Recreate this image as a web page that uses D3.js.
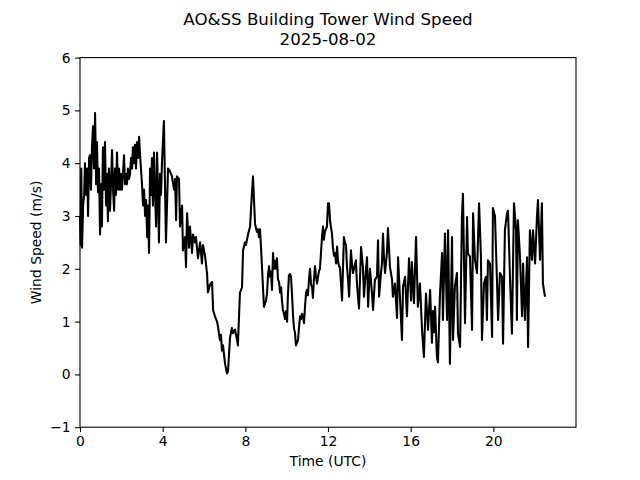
<!DOCTYPE html>
<html>
<head>
<meta charset="utf-8">
<script src="https://cdn.jsdelivr.net/npm/d3@7"></script>
<style>
  html, body { margin: 0; padding: 0; background: #fff; }
  text { font-family: "DejaVu Sans", sans-serif; fill: #000; }
</style>
</head>
<body>
<div id="mainDiv"></div>
<script>
'use strict';

// [hour UTC, wind speed m/s]
var speed00to04 = [
  [0.00, 3.0], [0.03, 2.45], [0.06, 3.9], [0.10, 2.4], [0.15, 3.2], [0.20, 3.4], [0.24, 4.0],
  [0.30, 3.4], [0.35, 3.9], [0.39, 3.0], [0.44, 4.1], [0.48, 4.15], [0.53, 3.5], [0.58, 4.3],
  [0.63, 4.7], [0.68, 3.9], [0.73, 4.95], [0.78, 3.6], [0.82, 4.4], [0.87, 3.45], [0.92, 3.9],
  [0.97, 2.65], [1.02, 3.6], [1.06, 2.8], [1.11, 4.3], [1.16, 3.5], [1.21, 4.4], [1.26, 3.2],
  [1.31, 3.8], [1.35, 2.9], [1.40, 3.9], [1.45, 3.1], [1.50, 3.6], [1.55, 4.25], [1.60, 3.5],
  [1.65, 3.1], [1.69, 3.9], [1.74, 3.4], [1.79, 4.2], [1.84, 3.5], [1.89, 3.9], [1.94, 3.5],
  [1.99, 3.8], [2.03, 3.5], [2.08, 3.8], [2.13, 4.15], [2.18, 3.6], [2.23, 3.8], [2.27, 3.6],
  [2.32, 3.9], [2.37, 3.7], [2.42, 3.8], [2.47, 4.1], [2.52, 3.9], [2.56, 4.3], [2.61, 4.0],
  [2.66, 4.35], [2.71, 3.9], [2.76, 4.4], [2.81, 4.1], [2.86, 4.5], [2.90, 4.2], [2.95, 3.9],
  [3.00, 3.6], [3.05, 3.2], [3.10, 3.5], [3.15, 3.0], [3.20, 3.3], [3.25, 2.6], [3.29, 3.2],
  [3.34, 2.3], [3.39, 3.9], [3.44, 3.4], [3.48, 4.1], [3.53, 3.2], [3.58, 4.2], [3.63, 3.5],
  [3.68, 2.8], [3.73, 4.2], [3.77, 3.5], [3.82, 2.5], [3.87, 3.8], [3.92, 3.4], [3.97, 4.05]
];

var speed04to08 = [
  [4.06, 4.8], [4.16, 2.5], [4.26, 3.9], [4.35, 3.85], [4.45, 3.75], [4.55, 3.5], [4.60, 3.7],
  [4.65, 2.92], [4.69, 3.75], [4.79, 3.7], [4.84, 2.8], [4.94, 3.2], [4.98, 2.35], [5.08, 2.6],
  [5.13, 2.03], [5.18, 3.05], [5.27, 2.4], [5.32, 2.8], [5.42, 2.3], [5.47, 2.65], [5.56, 2.5],
  [5.61, 2.6], [5.71, 2.2], [5.81, 2.5], [5.90, 2.1], [5.95, 2.45], [6.05, 2.25], [6.15, 1.9],
  [6.19, 1.55], [6.29, 1.7], [6.39, 1.75], [6.44, 1.22], [6.53, 1.1], [6.63, 1.0], [6.68, 0.9],
  [6.77, 0.65], [6.82, 0.75], [6.87, 0.45], [6.92, 0.55], [7.02, 0.2], [7.11, 0.02], [7.16, 0.05],
  [7.26, 0.7], [7.35, 0.88], [7.40, 0.78], [7.50, 0.85], [7.60, 0.65], [7.64, 0.55], [7.74, 1.55],
  [7.84, 1.65], [7.89, 2.35], [7.98, 2.5]
];

var speed08to12 = [
  [8.03, 2.45], [8.13, 2.65], [8.23, 2.8], [8.30, 3.3], [8.37, 3.75], [8.42, 3.3], [8.47, 2.85],
  [8.56, 2.7], [8.61, 2.75], [8.66, 2.6], [8.71, 2.75], [8.76, 2.4], [8.81, 2.0], [8.90, 1.28],
  [9.00, 1.4], [9.05, 1.53], [9.10, 1.9], [9.15, 2.05], [9.19, 1.85], [9.24, 1.95], [9.29, 1.6],
  [9.34, 2.3], [9.39, 2.0], [9.44, 2.15], [9.48, 2.0], [9.53, 2.2], [9.58, 1.8], [9.63, 1.75],
  [9.68, 1.55], [9.73, 1.65], [9.77, 1.4], [9.82, 1.22], [9.87, 1.15], [9.92, 1.05], [9.97, 1.2],
  [10.02, 1.0], [10.06, 1.5], [10.11, 1.88], [10.16, 1.9], [10.21, 1.85], [10.26, 1.5], [10.31, 1.1],
  [10.36, 0.85], [10.40, 0.8], [10.45, 0.55], [10.50, 0.6], [10.55, 0.65], [10.60, 0.9], [10.65, 1.1],
  [10.70, 1.05], [10.74, 1.15], [10.79, 1.1], [10.84, 0.97], [10.89, 1.3], [10.94, 1.55], [10.98, 1.6],
  [11.03, 1.5], [11.08, 1.8], [11.13, 2.0], [11.18, 1.7], [11.23, 1.65], [11.27, 1.45], [11.32, 1.8],
  [11.37, 2.05], [11.42, 1.85], [11.47, 1.72], [11.52, 1.85], [11.56, 1.95], [11.61, 2.0], [11.66, 2.3],
  [11.71, 2.6], [11.76, 2.8], [11.80, 2.55], [11.85, 2.7], [11.90, 2.75], [11.95, 2.8], [12.00, 3.24]
];

var speed12to16 = [
  [12.05, 3.24], [12.10, 2.9], [12.19, 2.67], [12.24, 2.4], [12.29, 2.25], [12.34, 2.3], [12.39, 2.1],
  [12.44, 2.42], [12.48, 2.16], [12.53, 2.05], [12.58, 2.03], [12.68, 1.4], [12.77, 2.6], [12.82, 2.5],
  [12.87, 2.45], [12.92, 2.03], [12.97, 1.8], [13.02, 1.47], [13.11, 2.35], [13.16, 2.1], [13.21, 1.92],
  [13.26, 2.0], [13.35, 2.16], [13.40, 1.72], [13.50, 1.25], [13.60, 2.41], [13.69, 2.03], [13.74, 1.47],
  [13.84, 2.0], [13.89, 2.22], [13.94, 1.28], [14.03, 2.0], [14.13, 1.53], [14.18, 1.22], [14.27, 1.79],
  [14.37, 1.85], [14.42, 2.54], [14.47, 1.47], [14.56, 1.9], [14.61, 2.1], [14.66, 2.67], [14.71, 2.2],
  [14.76, 1.92], [14.85, 2.3], [14.90, 2.77], [15.00, 2.03], [15.10, 1.79], [15.14, 1.47], [15.24, 1.72],
  [15.34, 1.07], [15.39, 2.22], [15.48, 1.47], [15.58, 0.65], [15.63, 1.66], [15.73, 1.85], [15.82, 1.1],
  [15.92, 2.2], [16.02, 1.4]
];

var speed16to20 = [
  [16.06, 2.13], [16.16, 1.35], [16.26, 2.6], [16.35, 1.28], [16.45, 1.72], [16.55, 0.84], [16.64, 0.33],
  [16.74, 1.53], [16.84, 0.84], [16.94, 1.6], [17.03, 0.6], [17.08, 1.2], [17.13, 0.8], [17.18, 1.28],
  [17.27, 0.33], [17.32, 0.23], [17.42, 1.53], [17.52, 2.3], [17.56, 1.03], [17.66, 2.67], [17.76, 1.03],
  [17.81, 2.73], [17.90, 0.2], [18.00, 2.6], [18.05, 0.65], [18.14, 1.66], [18.24, 1.92], [18.29, 0.77],
  [18.39, 0.52], [18.48, 2.98], [18.53, 3.42], [18.63, 0.97], [18.73, 2.98], [18.77, 2.29], [18.87, 2.23],
  [18.97, 0.84], [19.02, 3.05], [19.11, 2.17], [19.21, 1.92], [19.31, 3.24], [19.40, 2.23], [19.45, 0.65],
  [19.55, 1.72], [19.64, 1.85], [19.69, 1.03], [19.74, 2.16], [19.84, 2.1], [19.94, 0.71], [19.98, 3.15]
];

var speed20to23 = [
  [20.08, 3.0], [20.18, 1.72], [20.23, 1.03], [20.32, 1.92], [20.42, 1.85], [20.47, 0.58], [20.56, 2.73],
  [20.66, 3.05], [20.71, 3.1], [20.81, 1.79], [20.90, 0.77], [21.00, 3.24], [21.10, 2.73], [21.14, 1.03],
  [21.19, 2.92], [21.29, 2.23], [21.39, 1.1], [21.44, 2.1], [21.53, 1.03], [21.63, 2.22], [21.68, 0.52],
  [21.77, 2.73], [21.87, 2.17], [21.92, 2.73], [22.02, 2.1], [22.11, 2.98], [22.16, 3.3], [22.26, 2.17],
  [22.35, 3.24], [22.40, 1.72], [22.50, 1.47]
];

var xTicks = [0, 4, 8, 12, 16, 20];
var yTicks = [-1, 0, 1, 2, 3, 4, 5, 6];
var titleLines = ['AO&SS Building Tower Wind Speed', '2025-08-02'];


var myApp = {};

myApp.xScale = undefined;
myApp.yScale = undefined;

myApp.appendSvg = function(div, dims)
{
    return d3.select(div).append('svg')
        .attr('width', dims.width)
        .attr('height', dims.height);
}

myApp.createAxes = function(svg, box)
{
    myApp.xScale = d3.scaleLinear().domain([0, 24]).range([box.left, box.right]);
    myApp.yScale = d3.scaleLinear().domain([-1, 6]).range([box.bottom, box.top]);

    var xAxis = d3.axisBottom(myApp.xScale).tickValues(xTicks).tickSize(4.86).tickPadding(4.5);
    var yAxis = d3.axisLeft(myApp.yScale).tickValues(yTicks).tickSize(4.86).tickPadding(4.5)
        .tickFormat(function(d){ return d < 0 ? '\u2212' + Math.abs(d) : d; });

    var gx = svg.append('g')
        .attr('transform', 'translate(0,' + box.bottom + ')')
        .call(xAxis);
    var gy = svg.append('g')
        .attr('transform', 'translate(' + box.left + ',0)')
        .call(yAxis);

    [gx, gy].forEach(function(g) {
        g.select('.domain').remove();
        g.selectAll('.tick line').attr('stroke', '#000').attr('stroke-width', 1.1);
        g.selectAll('.tick text')
            .attr('font-family', 'DejaVu Sans')
            .attr('font-size', 13.9)
            .attr('fill', '#000');
    });
    gx.selectAll('.tick text').attr('dy', '0.71em');
}

myApp.appendLine = function(svg, data)
{
    var line = d3.line()
        .x(function(d){ return myApp.xScale(d[0]); })
        .y(function(d){ return myApp.yScale(d[1]); });

    svg.append('path')
        .datum(data)
        .attr('d', line)
        .attr('fill', 'none')
        .attr('stroke', '#000')
        .attr('stroke-width', 2.08)
        .attr('stroke-linejoin', 'round');
}

myApp.appendLabels = function(svg, box)
{
    var cx = (box.left + box.right) / 2;

    svg.append('text')
        .attr('x', cx).attr('y', 25)
        .attr('text-anchor', 'middle')
        .attr('font-size', 16.67)
        .text(titleLines[0]);
    svg.append('text')
        .attr('x', cx).attr('y', 45)
        .attr('text-anchor', 'middle')
        .attr('font-size', 16.67)
        .text(titleLines[1]);

    svg.append('text')
        .attr('x', cx).attr('y', 466)
        .attr('text-anchor', 'middle')
        .attr('font-size', 13.9)
        .text('Time (UTC)');

    svg.append('text')
        .attr('transform', 'translate(41,' + ((box.top + box.bottom) / 2) + ') rotate(-90)')
        .attr('text-anchor', 'middle')
        .attr('font-size', 13.9)
        .text('Wind Speed (m/s)');
}

myApp.run = function(params)
{
    var svg = myApp.appendSvg(params.div, params.dims);
    var box = params.box;

    myApp.createAxes(svg, box);

    var all = [].concat(speed00to04, speed04to08, speed08to12, speed12to16, speed16to20, speed20to23);
    myApp.appendLine(svg, all);

    // axes frame
    svg.append('rect')
        .attr('x', box.left).attr('y', box.top)
        .attr('width', box.right - box.left)
        .attr('height', box.bottom - box.top)
        .attr('fill', 'none')
        .attr('stroke', '#000')
        .attr('stroke-width', 1.1);

    myApp.appendLabels(svg, box);
}

var params = {
    div: '#mainDiv',
    dims: { width: 640, height: 480 },
    box: { left: 80, right: 576, top: 57.6, bottom: 427.2 }
};

myApp.run(params);
</script>
</body>
</html>
